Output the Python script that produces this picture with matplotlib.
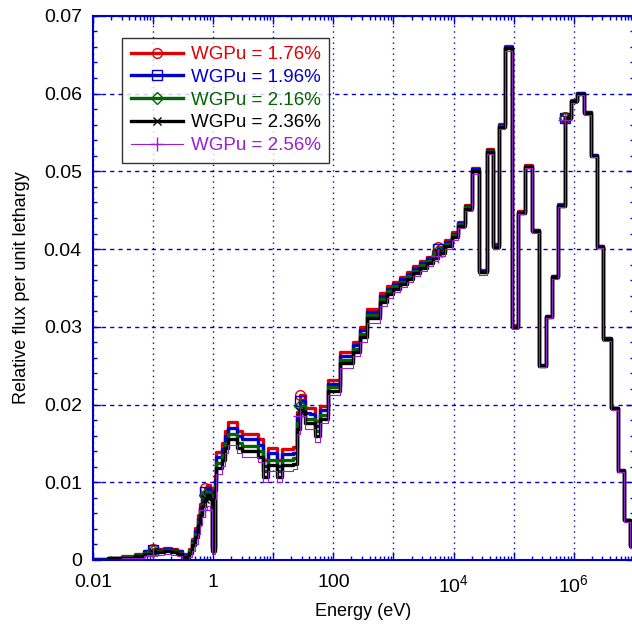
import matplotlib
matplotlib.use("Agg")
import matplotlib.pyplot as plt
from matplotlib.ticker import MultipleLocator, LogLocator, NullFormatter

plt.rcParams['font.family'] = ['Liberation Sans', 'DejaVu Sans']
plt.rcParams['mathtext.fontset'] = 'custom'
plt.rcParams['mathtext.rm'] = 'Liberation Sans'
plt.rcParams['mathtext.it'] = 'Liberation Sans:italic'
plt.rcParams['mathtext.default'] = 'regular'

# group lower edges (eV), last edge 1e7
energy = [0.01, 0.018, 0.03, 0.05, 0.07, 0.1, 0.15, 0.2, 0.25, 0.3,
          0.35, 0.4, 0.45, 0.5, 0.55, 0.6, 0.65, 0.72, 0.8, 0.9,
          0.97, 1.07, 1.13, 1.38, 1.57, 1.78, 2.5, 3.0, 5.6, 6.8,
          8.2, 11.4, 13.8, 21.5, 24.5, 28, 34, 41, 50, 60,
          80, 130, 210, 280, 370, 600, 780, 1000, 1300, 1700,
          2150, 2750, 3600, 4600, 5500, 7200, 9500, 1.2e4, 1.55e4, 2.05e4,
          2.7e4, 3.55e4, 4.5e4, 5.6e4, 7.2e4, 9.5e4, 1.2e5, 1.55e5, 2.05e5, 2.6e5,
          3.4e5, 4.4e5, 5.5e5, 7.2e5, 9.1e5, 1.15e6, 1.5e6, 1.9e6, 2.45e6, 3.1e6,
          4.1e6, 5.4e6, 6.8e6, 8.7e6]
e_max = 1e7

flux_176 = [0.0001, 0.0003, 0.0005, 0.0008, 0.0012, 0.0014, 0.0015, 0.0014, 0.0012, 0.0008,
            0.0006, 0.0014, 0.0027, 0.0041, 0.0058, 0.0072, 0.0085, 0.0093, 0.0097, 0.0092,
            0.0018, 0.0108, 0.0139, 0.0150, 0.0166, 0.0177, 0.0166, 0.0162, 0.0155, 0.0128,
            0.0144, 0.0128, 0.0143, 0.0145, 0.0190, 0.0212, 0.0196, 0.0195, 0.0179, 0.0198,
            0.0232, 0.0267, 0.0281, 0.0300, 0.0323, 0.0344, 0.0353, 0.0358, 0.0364, 0.0371,
            0.0378, 0.0385, 0.0390, 0.0397, 0.0403, 0.0411, 0.0422, 0.0435, 0.0457, 0.0504,
            0.0373, 0.0529, 0.0406, 0.0561, 0.0661, 0.0302, 0.0449, 0.0508, 0.0425, 0.0251,
            0.0314, 0.0365, 0.0458, 0.0570, 0.0592, 0.0601, 0.0576, 0.0521, 0.0404, 0.0285,
            0.0196, 0.0116, 0.0052, 0.0019]
flux_196 = [0.00008, 0.00027, 0.0004, 0.0007, 0.0011, 0.0013, 0.0014, 0.0013, 0.0011, 0.0007,
            0.0005, 0.0012, 0.0024, 0.0037, 0.0053, 0.0067, 0.0079, 0.0088, 0.0092, 0.0087,
            0.0016, 0.0101, 0.0132, 0.0143, 0.0159, 0.0170, 0.0159, 0.0155, 0.0148, 0.0121,
            0.0137, 0.0121, 0.0136, 0.0138, 0.0183, 0.0205, 0.0189, 0.0188, 0.0172, 0.0193,
            0.0227, 0.0262, 0.0277, 0.0296, 0.0319, 0.0340, 0.0349, 0.0355, 0.0361, 0.0368,
            0.0375, 0.0382, 0.0388, 0.0394, 0.0400, 0.0409, 0.0420, 0.0433, 0.0455, 0.0503,
            0.0372, 0.0528, 0.0405, 0.0559, 0.0660, 0.0301, 0.0448, 0.0507, 0.0424, 0.0251,
            0.0314, 0.0365, 0.0457, 0.0569, 0.0591, 0.0601, 0.0576, 0.0521, 0.0404, 0.0285,
            0.0196, 0.0116, 0.0052, 0.0019]
flux_216 = [0.00006, 0.00023, 0.00035, 0.0006, 0.00095, 0.00115, 0.00125, 0.00115, 0.00095, 0.00055,
            0.0004, 0.0011, 0.0022, 0.0034, 0.0049, 0.0063, 0.0075, 0.0083, 0.0088, 0.0083,
            0.0014, 0.0095, 0.0125, 0.0135, 0.0151, 0.0162, 0.0151, 0.0147, 0.0140, 0.0114,
            0.0129, 0.0114, 0.0129, 0.0131, 0.0176, 0.0198, 0.0182, 0.0182, 0.0166, 0.0187,
            0.0222, 0.0257, 0.0272, 0.0291, 0.0315, 0.0336, 0.0346, 0.0352, 0.0358, 0.0365,
            0.0372, 0.0379, 0.0385, 0.0392, 0.0398, 0.0407, 0.0418, 0.0432, 0.0454, 0.0501,
            0.0371, 0.0526, 0.0404, 0.0558, 0.0659, 0.0301, 0.0447, 0.0506, 0.0423, 0.0250,
            0.0313, 0.0364, 0.0456, 0.0568, 0.0590, 0.0600, 0.0575, 0.0520, 0.0403, 0.0284,
            0.0195, 0.0115, 0.0051, 0.0018]
flux_236 = [0.00005, 0.0002, 0.0003, 0.0005, 0.0008, 0.0010, 0.0011, 0.0010, 0.0008, 0.0004,
            0.0003, 0.0009, 0.0019, 0.0030, 0.0045, 0.0058, 0.0070, 0.0078, 0.0083, 0.0078,
            0.0012, 0.0090, 0.0118, 0.0128, 0.0144, 0.0155, 0.0144, 0.0140, 0.0133, 0.0107,
            0.0122, 0.0107, 0.0122, 0.0124, 0.0169, 0.0192, 0.0176, 0.0176, 0.0160, 0.0182,
            0.0218, 0.0253, 0.0268, 0.0287, 0.0311, 0.0332, 0.0342, 0.0349, 0.0355, 0.0362,
            0.0369, 0.0376, 0.0382, 0.0389, 0.0395, 0.0404, 0.0415, 0.0430, 0.0452, 0.0500,
            0.0370, 0.0525, 0.0403, 0.0557, 0.0658, 0.0300, 0.0447, 0.0506, 0.0423, 0.0250,
            0.0313, 0.0364, 0.0456, 0.0568, 0.0590, 0.0600, 0.0575, 0.0520, 0.0403, 0.0284,
            0.0195, 0.0115, 0.0051, 0.0018]
flux_256 = [0.00002, 0.00012, 0.0002, 0.0003, 0.0005, 0.0007, 0.0008, 0.0007, 0.0005, 0.0001,
            0.0001, 0.0004, 0.0012, 0.0021, 0.0034, 0.0045, 0.0055, 0.0064, 0.0070, 0.0066,
            0.0008, 0.0079, 0.0110, 0.0121, 0.0137, 0.0148, 0.0137, 0.0133, 0.0126, 0.0100,
            0.0115, 0.0100, 0.0115, 0.0117, 0.0162, 0.0185, 0.0169, 0.0169, 0.0152, 0.0176,
            0.0212, 0.0247, 0.0262, 0.0281, 0.0305, 0.0327, 0.0337, 0.0345, 0.0351, 0.0358,
            0.0365, 0.0372, 0.0378, 0.0385, 0.0391, 0.0400, 0.0411, 0.0427, 0.0449, 0.0497,
            0.0367, 0.0522, 0.0400, 0.0554, 0.0655, 0.0297, 0.0445, 0.0504, 0.0421, 0.0248,
            0.0311, 0.0362, 0.0454, 0.0566, 0.0588, 0.0598, 0.0573, 0.0518, 0.0401, 0.0282,
            0.0193, 0.0113, 0.0049, 0.0016]

labels = ['WGPu = 1.76%', 'WGPu = 1.96%', 'WGPu = 2.16%', 'WGPu = 2.36%', 'WGPu = 2.56%']
colors = ['#e00000', '#0000d0', '#006400', '#000000', '#9a1fd0']
markers = ['o', 's', 'D', 'x', '+']
widths = [2.4, 2.4, 2.4, 2.4, 0.8]
mark_idx = [5, 17, 35, 54, 73]

fig = plt.figure(figsize=(6.32, 6.24), dpi=100)
ax = fig.add_axes([0.147, 0.1026, 0.856, 0.872])

x_edges = energy + [e_max]
for flux, lab, col, mk, lw in zip([flux_176, flux_196, flux_216, flux_236, flux_256],
                                  labels, colors, markers, widths):
    y = flux + [flux[-1]]
    msize = 7 if mk in ('o', 's') else 6
    if mk == '+':
        msize = 10
    ax.plot(x_edges, y, drawstyle='steps-post', color=col, lw=lw, label=lab,
            marker=mk, markevery=mark_idx, markersize=msize,
            markerfacecolor='none', markeredgecolor=col, markeredgewidth=1.0)

ax.set_xscale('log')
ax.set_xlim(0.01, 1e7)
ax.set_ylim(0, 0.07)

blue = '#0000cc'
ax.set_xticks([0.01, 0.1, 1, 10, 100, 1e3, 1e4, 1e5, 1e6, 1e7],
              ['0.01', '', '1', '', '100', '', '$10^4$', '', '$10^6$', ''])
ax.xaxis.set_minor_locator(LogLocator(base=10, subs=range(2, 10), numticks=20))
ax.xaxis.set_minor_formatter(NullFormatter())
ax.set_yticks([0, 0.01, 0.02, 0.03, 0.04, 0.05, 0.06, 0.07],
              ['0', '0.01', '0.02', '0.03', '0.04', '0.05', '0.06', '0.07'])
ax.yaxis.set_minor_locator(MultipleLocator(0.002))

ax.tick_params(which='both', direction='in', top=True, right=True, color=blue,
               labelsize=14, labelcolor='black')
ax.tick_params(which='major', length=6, width=1)
ax.tick_params(which='minor', length=3, width=1)
ax.tick_params(axis='x', which='major', pad=10)
ax.tick_params(axis='y', which='major', pad=8)
for sp in ax.spines.values():
    sp.set_color(blue)
    sp.set_linewidth(1.5)

ax.xaxis.grid(True, which='major', color=blue, linestyle=(0, (1, 3)), linewidth=1.0)
ax.yaxis.grid(True, which='major', color=blue, linestyle=(0, (3, 3)), linewidth=1.0)
ax.set_axisbelow(True)

ax.set_xlabel('Energy (eV)', fontsize=13, labelpad=5)
ax.set_ylabel('Relative flux per unit lethargy', fontsize=13, labelpad=10)

leg = ax.legend(loc='upper left', bbox_to_anchor=(0.054, 0.96), fontsize=13.5,
                frameon=True, fancybox=False, handlelength=2.8, borderpad=0.45,
                labelspacing=0.3, handletextpad=0.4, borderaxespad=0)
leg.get_frame().set_edgecolor('black')
leg.get_frame().set_linewidth(1.0)
for txt, col in zip(leg.get_texts(), colors):
    txt.set_color(col)

fig.savefig('out.png', dpi=100)
